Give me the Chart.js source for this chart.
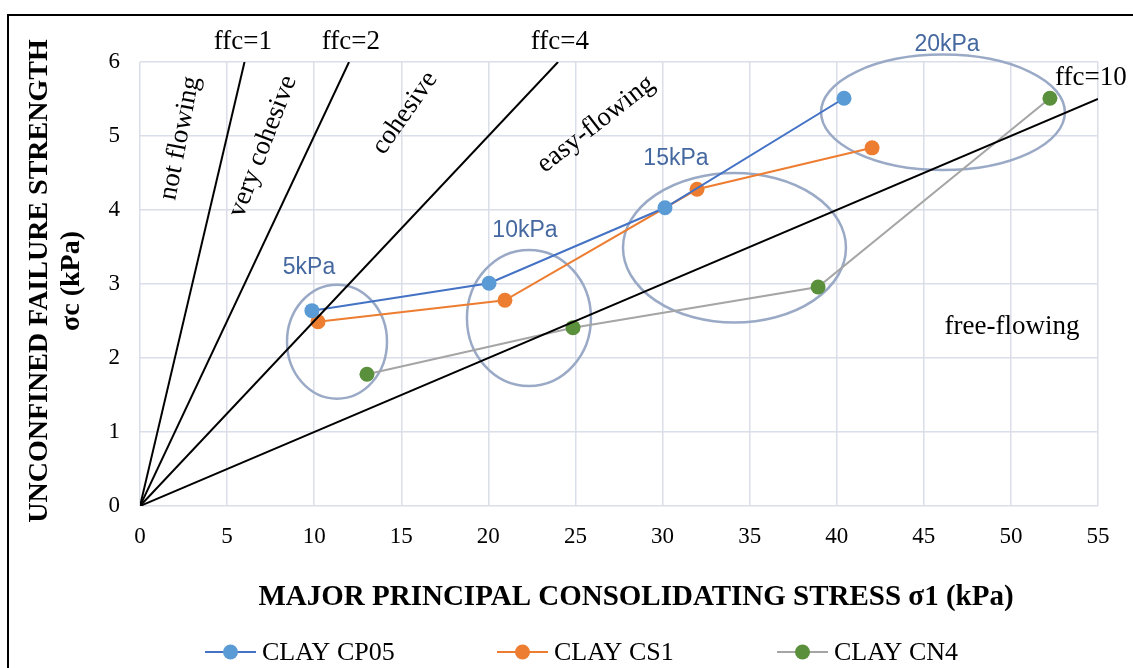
<!DOCTYPE html>
<html>
<head>
<meta charset="utf-8">
<script src="https://cdn.jsdelivr.net/npm/chart.js@4.4.1/dist/chart.umd.min.js"></script>
<style>
html,body{margin:0;padding:0;background:#fff;}
#wrap{width:1133px;height:668px;position:relative;}
</style>
</head>
<body>
<div id="wrap"><canvas id="c" width="1133" height="668"></canvas></div>
<script>
// ---- data ----
const xTickValues = [0,5,10,15,20,25,30,35,40,45,50,55];
const yTickValues = [0,1,2,3,4,5,6];

const cp05X = [9.87, 20.04, 30.14, 40.42];
const cp05Y = [2.64, 3.01, 4.03, 5.51];
const cs1X  = [10.22, 20.95, 31.98, 42.03];
const cs1Y  = [2.49, 2.78, 4.28, 4.84];
const cn4X  = [13.03, 24.86, 38.93, 52.24];
const cn4Y  = [1.78, 2.41, 2.96, 5.51];

const ffcNames = ['ffc=1','ffc=2','ffc=4','ffc=10'];
const ffcEndX = [6, 12, 24, 55];
const ffcEndY = [6, 6, 6, 5.5];

const seriesNames = ['CLAY CP05','CLAY CS1','CLAY CN4'];

// consolidation-stress groups (ellipses), in data units
const groupLabels = ['5kPa','10kPa','15kPa','20kPa'];
const groupCX = [11.31, 22.33, 34.13, 46.1];
const groupCY = [2.22, 2.54, 3.49, 5.32];
const groupRX = [2.87, 3.56, 6.40, 7.0];
const groupRY = [0.77, 0.92, 1.01, 0.78];

// ---- styles ----
const SERIF = "'Liberation Serif','Times New Roman',serif";
const SANS = "'Liberation Sans',Arial,sans-serif";
const seriesLine = ['#4472c4','#ed7d31','#a5a5a5'];
const seriesMarker = ['#5b9bd5','#ed7d31','#5a8f3c'];

function pts(xs, ys){ return xs.map((x,i)=>({x:x, y:ys[i]})); }

const datasets = [];
[[cp05X,cp05Y],[cs1X,cs1Y],[cn4X,cn4Y]].forEach((s,i)=>{
  datasets.push({
    label: seriesNames[i],
    data: pts(s[0], s[1]),
    showLine: true,
    borderColor: seriesLine[i],
    borderWidth: 2,
    pointRadius: 7.5,
    pointHoverRadius: 7.5,
    pointBackgroundColor: seriesMarker[i],
    pointBorderColor: seriesMarker[i],
    pointBorderWidth: 0,
    order: 2
  });
});
ffcNames.forEach((n,i)=>{
  datasets.push({
    label: n,
    data: [{x:0,y:0},{x:ffcEndX[i], y:ffcEndY[i]}],
    showLine: true,
    borderColor: '#000',
    borderWidth: 2,
    pointRadius: 0,
    order: 1
  });
});

const annoPlugin = {
  id: 'anno',
  beforeDraw(chart){
    const ctx = chart.ctx;
    ctx.save();
    ctx.fillStyle = '#fff';
    ctx.fillRect(0,0,chart.width,chart.height);
    ctx.strokeStyle = '#000';
    ctx.lineWidth = 2;
    ctx.strokeRect(8, 15, 1300, 800);
    ctx.restore();
  },
  beforeDatasetsDraw(chart){
    const ctx = chart.ctx, xs = chart.scales.x, ys = chart.scales.y;
    ctx.save();
    ctx.strokeStyle = '#9aaac6';
    ctx.lineWidth = 2.5;
    for (let i=0;i<groupCX.length;i++){
      const cx = xs.getPixelForValue(groupCX[i]);
      const cy = ys.getPixelForValue(groupCY[i]);
      const rx = Math.abs(xs.getPixelForValue(groupCX[i]+groupRX[i]) - cx);
      const ry = Math.abs(ys.getPixelForValue(groupCY[i]+groupRY[i]) - cy);
      ctx.beginPath();
      ctx.ellipse(cx, cy, rx, ry, 0, 0, Math.PI*2);
      ctx.stroke();
    }
    ctx.restore();
  },
  afterDraw(chart){
    const ctx = chart.ctx, xs = chart.scales.x, ys = chart.scales.y;
    const P = (x,y)=>[xs.getPixelForValue(x), ys.getPixelForValue(y)];
    ctx.save();
    // zone labels
    ctx.fillStyle = '#000';
    ctx.textBaseline = 'middle';
    const t = (txt, x, y, ang, align, size)=>{
      const [px,py] = P(x,y);
      ctx.save();
      ctx.translate(px,py);
      ctx.rotate(ang*Math.PI/180);
      ctx.font = (size||27)+'px '+SERIF;
      ctx.textAlign = align||'center';
      ctx.fillText(txt,0,0);
      ctx.restore();
    };
    t('ffc=1', 5.91, 6.27, 0);
    t('ffc=2', 12.11, 6.27, 0);
    t('ffc=4', 24.11, 6.27, 0);
    t('ffc=10', 52.53, 5.78, 0, 'left');
    t('free-flowing', 50.06, 2.42, 0);
    t('not flowing', 2.30, 4.97, -79);
    t('very cohesive', 7.06, 4.86, -69);
    t('cohesive', 15.21, 5.31, -55);
    t('easy-flowing', 26.18, 5.16, -38);
    // group labels
    ctx.fillStyle = '#44689f';
    ctx.font = '23px '+SANS;
    ctx.textAlign = 'center';
    const gl = [[9.70,3.22],[22.10,3.72],[30.77,4.69],[46.33,6.24]];
    groupLabels.forEach((g,i)=>{
      const [px,py] = P(gl[i][0], gl[i][1]);
      ctx.fillText(g, px, py);
    });
    // axis titles
    ctx.fillStyle = '#000';
    ctx.font = 'bold 29px '+SERIF;
    ctx.textAlign = 'center';
    ctx.fillText('MAJOR PRINCIPAL CONSOLIDATING STRESS \u03C31 (kPa)', 636, 598);
    ctx.save();
    ctx.translate(40, 281);
    ctx.rotate(-Math.PI/2);
    ctx.font = 'bold 28px '+SERIF;
    ctx.fillText('UNCONFINED FAILURE STRENGTH', 0, 0);
    ctx.fillText('\u03C3c (kPa)', 0, 32);
    ctx.restore();
    // legend
    const legX = [205, 497, 777];
    const legY = 652;
    ctx.font = '26px '+SERIF;
    ctx.textAlign = 'left';
    for (let i=0;i<3;i++){
      ctx.strokeStyle = seriesLine[i];
      ctx.lineWidth = 2;
      ctx.beginPath();
      ctx.moveTo(legX[i], legY);
      ctx.lineTo(legX[i]+51, legY);
      ctx.stroke();
      ctx.fillStyle = seriesMarker[i];
      ctx.beginPath();
      ctx.arc(legX[i]+25.5, legY, 7.5, 0, Math.PI*2);
      ctx.fill();
      ctx.fillStyle = '#000';
      ctx.fillText(seriesNames[i], legX[i]+57, legY+1);
    }
    ctx.restore();
  }
};

new Chart(document.getElementById('c'), {
  type: 'scatter',
  data: { datasets },
  options: {
    responsive: false,
    animation: false,
    events: [],
    layout: { padding: { top: 62, right: 35, bottom: 0, left: 0 } },
    plugins: { legend: { display: false }, tooltip: { enabled: false } },
    scales: {
      x: {
        type: 'linear', min: 0, max: 55,
        afterBuildTicks: (s)=>{ s.ticks = xTickValues.map(v=>({value:v})); },
        afterFit: (s)=>{ s.height = 162; },
        grid: { color: '#d9dee8', lineWidth: 1.5, drawTicks: false },
        border: { display: false },
        ticks: { color: '#000', padding: 17, font: { family: SERIF, size: 23 } }
      },
      y: {
        type: 'linear', min: 0, max: 6,
        afterBuildTicks: (s)=>{ s.ticks = yTickValues.map(v=>({value:v})); },
        afterFit: (s)=>{ s.width = 140; },
        grid: { color: '#d9dee8', lineWidth: 1.5, drawTicks: false },
        border: { display: false },
        ticks: { color: '#000', padding: 20, font: { family: SERIF, size: 23 } }
      }
    }
  },
  plugins: [annoPlugin]
});
</script>
</body>
</html>
